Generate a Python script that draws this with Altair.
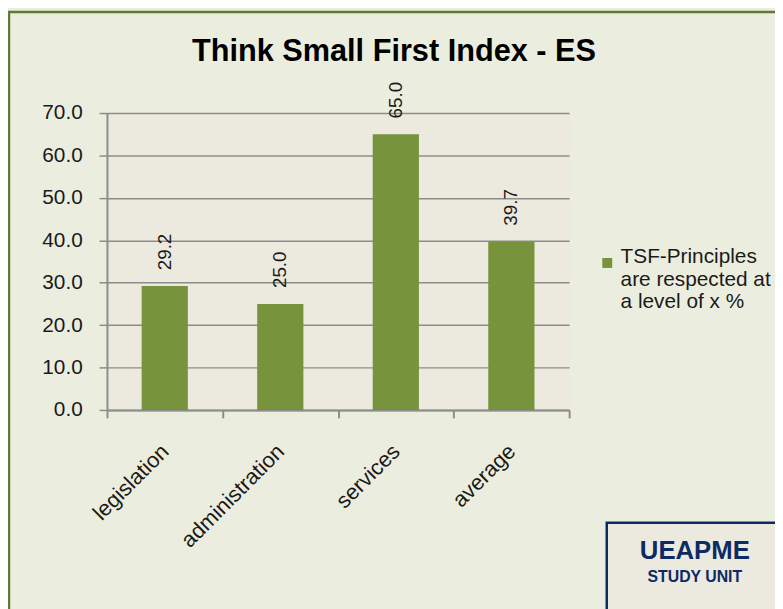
import altair as alt
import pandas as pd

categories = ["legislation", "administration", "services", "average"]
values = [29.2, 25.0, 65.0, 39.7]
legend_lines = ["TSF-Principles", "are respected at", "a level of x %"]
y_ticks = [0, 10, 20, 30, 40, 50, 60, 70]
title_text = "Think Small First Index - ES"
badge_lines = ["UEAPME", "STUDY UNIT"]

series_name = "\n".join(legend_lines)
df = pd.DataFrame({"category": categories, "value": values, "series": [series_name] * len(categories)})
one = pd.DataFrame({"k": [0]})

W, H = 467, 300
GRAY = "#8C8C8C"
GREEN = "#77933C"
NAVY = "#0D2B63"
FONT = "Liberation Sans"

x_enc = alt.X(
    "category:N",
    sort=categories,
    scale=alt.Scale(paddingInner=0, paddingOuter=0),
    axis=alt.Axis(
        title=None, labelAngle=-45, labelAlign="right", labelBaseline="middle",
        labelPadding=30, labelOffset=0, tickBand="extent", tickSize=8,
        tickColor=GRAY, tickWidth=2, domainColor=GRAY, domainWidth=2,
        labelFont=FONT, labelFontSize=22, labelColor="#1a1a1a", grid=False,
    ),
)
y_enc = alt.Y(
    "value:Q",
    scale=alt.Scale(domain=[0, 70], nice=False),
    axis=alt.Axis(
        title=None, values=y_ticks, format=".1f", labelFont=FONT, labelFontSize=21,
        labelColor="#1a1a1a", labelPadding=17, tickSize=8, tickColor=GRAY, tickWidth=1.5,
        domainColor=GRAY, domainWidth=2, grid=True, gridColor=GRAY, gridWidth=1.5,
    ),
)

bars = alt.Chart(df).mark_bar(width=alt.RelativeBandSize(0.4)).encode(
    x=x_enc,
    y=y_enc,
    color=alt.Color(
        "series:N",
        scale=alt.Scale(domain=[series_name], range=[GREEN]),
        legend=alt.Legend(
            title=None, orient="none", legendX=495, legendY=141, symbolType="square",
            symbolSize=100, symbolStrokeWidth=0, labelFont=FONT, labelFontSize=21,
            labelColor="#1a1a1a", labelExpr="split(datum.label, '\\n')", labelLimit=400,
            labelOffset=3, padding=0, labelBaseline="alphabetic",
        ),
    ),
)

labels = alt.Chart(df).mark_text(
    angle=270, align="left", baseline="middle", dx=16, font=FONT, fontSize=19, color="#1a1a1a"
).encode(x=alt.X("category:N", sort=categories), y="value:Q", text=alt.Text("value:Q", format=".1f"))

title = alt.Chart(one).mark_text(
    text=title_text, font=FONT, fontSize=31, fontWeight="bold", color="#000000",
    align="center", baseline="alphabetic"
).encode(x=alt.value(290), y=alt.value(-53))

frame = alt.Chart(one).mark_rect(filled=False, stroke="#5E7A33", strokeWidth=2.5).encode(
    x=alt.value(-99), x2=alt.value(900), y=alt.value(-102), y2=alt.value(900)
)
badge = alt.Chart(one).mark_rect(fill="#ECEADF", stroke=NAVY, strokeWidth=2.5).encode(
    x=alt.value(505), x2=alt.value(800), y=alt.value(414), y2=alt.value(700)
)
badge_t1 = alt.Chart(one).mark_text(
    text=badge_lines[0], font=FONT, fontSize=26, fontWeight="bold", color=NAVY, align="center", baseline="alphabetic"
).encode(x=alt.value(594), y=alt.value(451))
badge_t2 = alt.Chart(one).mark_text(
    text=badge_lines[1], font=FONT, fontSize=16, fontWeight="bold", color=NAVY, align="center", baseline="alphabetic"
).encode(x=alt.value(594), y=alt.value(474))

chart = alt.layer(frame, title, bars, labels, badge, badge_t1, badge_t2).properties(
    width=W,
    height=H,
    autosize="none",
    padding={"left": 100, "top": 103, "right": 208, "bottom": 198},
).configure(background="#EBEEDF").configure_view(fill="#ECEADF", stroke="transparent")

chart.save("out.html", embed_options={"renderer": "svg", "actions": False})
